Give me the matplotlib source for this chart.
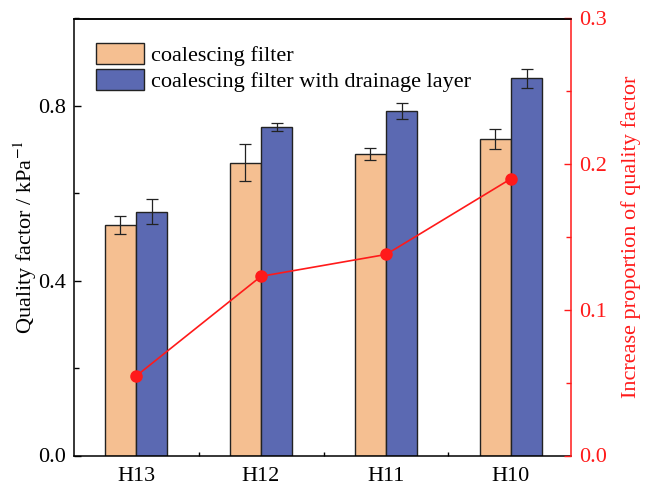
import numpy as np
import matplotlib.pyplot as plt
from matplotlib.ticker import MultipleLocator, FixedLocator

plt.rcParams['font.family'] = ['Liberation Serif', 'DejaVu Serif']
plt.rcParams['mathtext.fontset'] = 'stix'

# data
groups = ['H13', 'H12', 'H11', 'H10']
qf_plain = [0.528, 0.670, 0.690, 0.725]
qf_plain_err = [0.021, 0.042, 0.013, 0.023]
qf_drain = [0.558, 0.752, 0.789, 0.863]
qf_drain_err = [0.028, 0.010, 0.018, 0.022]
increase = [0.0545, 0.123, 0.138, 0.190]

orange = '#F5BF91'
blue = '#5B69B2'
red = '#FF1A1A'
fs = 16

fig = plt.figure(figsize=(6.53, 4.88), dpi=100)
ax = fig.add_axes([74 / 653, 1 - 455.5 / 488, 497 / 653, 437 / 488])

x = np.arange(len(groups))
w = 0.25
ax.bar(x - w / 2, qf_plain, w, yerr=qf_plain_err, color=orange, edgecolor='#222222',
       linewidth=1.0, capsize=4, error_kw=dict(elinewidth=0.9, capthick=0.9, ecolor='#222222'),
       label='coalescing filter')
ax.bar(x + w / 2, qf_drain, w, yerr=qf_drain_err, color=blue, edgecolor='#222222',
       linewidth=1.0, capsize=4, error_kw=dict(elinewidth=0.9, capthick=0.9, ecolor='#222222'),
       label='coalescing filter with drainage layer')

ax.set_xlim(-0.496, 3.48)
ax.set_ylim(0, 1.0)
ax.set_xticks(x)
ax.set_xticklabels(groups)
ax.xaxis.set_minor_locator(FixedLocator([0.5, 1.5, 2.5]))
ax.yaxis.set_major_locator(MultipleLocator(0.4))
ax.yaxis.set_minor_locator(MultipleLocator(0.2))
ax.yaxis.set_major_formatter(plt.FormatStrFormatter('%.1f'))
ax.tick_params(axis='y', which='major', direction='in', length=5, labelsize=fs, width=1, pad=6)
ax.tick_params(axis='y', which='minor', direction='in', length=3.5, width=1)
ax.tick_params(axis='x', which='major', direction='in', length=0, labelsize=fs, pad=8)
ax.tick_params(axis='x', which='minor', direction='in', length=3, width=1)
ax.set_ylabel('Quality factor / kPa$^{-1}$', fontsize=fs, labelpad=-1)
ax.spines['right'].set_visible(False)
for s in ['left', 'bottom', 'top']:
    ax.spines[s].set_linewidth(1.1)

ax2 = ax.twinx()
ax2.plot(x, increase, '-', color=red, linewidth=1.2, marker='o', markersize=8,
         markerfacecolor=red, markeredgecolor=red)
ax2.set_ylim(0, 0.3)
ax2.yaxis.set_major_locator(MultipleLocator(0.1))
ax2.yaxis.set_minor_locator(MultipleLocator(0.05))
ax2.yaxis.set_major_formatter(plt.FormatStrFormatter('%.1f'))
ax2.tick_params(axis='y', which='major', direction='in', length=5, labelsize=fs,
                colors=red, width=1, pad=6)
ax2.tick_params(axis='y', which='minor', direction='in', length=3.5, colors=red, width=1)
ax2.spines['right'].set_color(red)
ax2.spines['right'].set_linewidth(1.1)
ax2.spines['left'].set_visible(False)
ax2.spines['bottom'].set_visible(False)
ax2.spines['top'].set_color('black')
ax2.spines['top'].set_linewidth(1.1)
ax2.set_ylabel('Increase proportion of quality factor', fontsize=fs, color=red, labelpad=10)

ax.legend(loc='upper left', bbox_to_anchor=(0.0, 0.995), frameon=False, fontsize=fs,
          handlelength=2.15, handleheight=1.05, handletextpad=0.3, labelspacing=0.15,
          borderaxespad=0.6)

fig.savefig('out.png', dpi=100)
